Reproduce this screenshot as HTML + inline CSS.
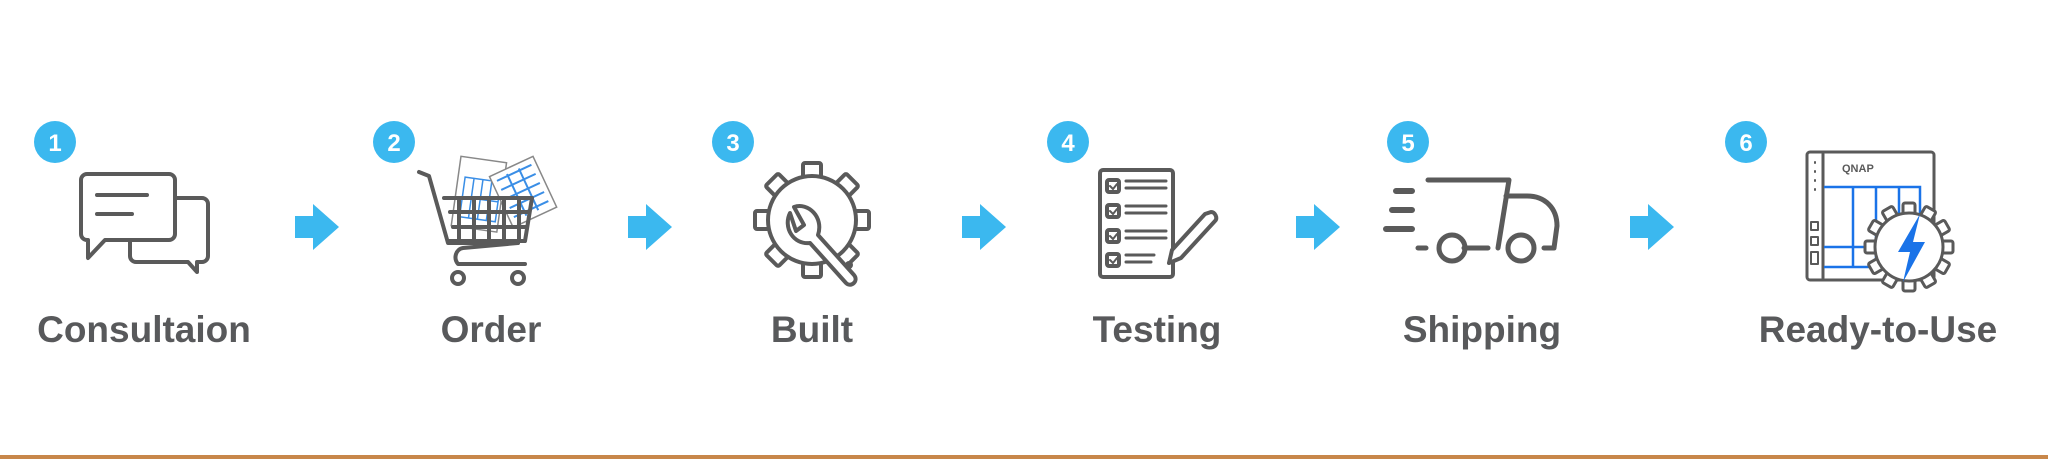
<!DOCTYPE html>
<html><head><style>
html,body{margin:0;padding:0;background:#fff;}
svg{display:block;}
text{font-family:"Liberation Sans",sans-serif;}
</style></head><body>
<svg width="2048" height="459" viewBox="0 0 2048 459" xmlns="http://www.w3.org/2000/svg">
<rect width="2048" height="459" fill="#fff"/>
<g fill="#3bb8ef">
<circle cx="55" cy="142" r="21"/><circle cx="394" cy="142" r="21"/><circle cx="733" cy="142" r="21"/>
<circle cx="1068" cy="142" r="21"/><circle cx="1408" cy="142" r="21"/><circle cx="1746" cy="142" r="21"/>
</g>
<g fill="#fff" font-size="24" font-weight="bold" text-anchor="middle">
<text x="55" y="151">1</text><text x="394" y="151">2</text><text x="733" y="151">3</text>
<text x="1068" y="151">4</text><text x="1408" y="151">5</text><text x="1746" y="151">6</text>
</g>
<g fill="#3bb8ef">
<path d="M295 216h18v-12l26 23-26 23v-12h-18z"/>
<path d="M628 216h18v-12l26 23-26 23v-12h-18z"/>
<path d="M962 216h18v-12l26 23-26 23v-12h-18z"/>
<path d="M1296 216h18v-12l26 23-26 23v-12h-18z"/>
<path d="M1630 216h18v-12l26 23-26 23v-12h-18z"/>
</g>
<g fill="#58595b" font-size="37" font-weight="bold" text-anchor="middle">
<text x="144" y="342">Consultaion</text>
<text x="491" y="342">Order</text>
<text x="812" y="342">Built</text>
<text x="1157" y="342">Testing</text>
<text x="1482" y="342">Shipping</text>
<text x="1878" y="342">Ready-to-Use</text>
</g>
<g transform="rotate(8 470 200)">
<rect x="455" y="158" width="46" height="70" fill="#fff" stroke="#888" stroke-width="1.5"/>
<path d="M462 178h36v40h-36zM471 178v40M480 178v40M489 178v40M462 198h36" fill="none" stroke="#3a8ee6" stroke-width="1.5"/>
</g>
<g transform="rotate(-25 520 190)">
<rect x="498" y="165" width="48" height="56" fill="#fff" stroke="#888" stroke-width="1.5"/>
<path d="M503 172h38M503 182h38M503 192h38M503 202h38M503 212h38M515 170v46M528 170v46" fill="none" stroke="#3a8ee6" stroke-width="2"/>
</g>
<g fill="none" stroke="#5a5a5a" stroke-width="4" stroke-linejoin="round" stroke-linecap="round">
<path d="M176 198h26a6 6 0 0 1 6 6v52a6 6 0 0 1-6 6h-5v10l-9-10h-52a6 6 0 0 1-6-6v-16"/>
<path d="M87 174h82a6 6 0 0 1 6 6v54a6 6 0 0 1-6 6h-64l-17 18v-18h-1a6 6 0 0 1-6-6v-54a6 6 0 0 1 6-6z" fill="#fff"/>
<path d="M97 195h50M97 214h35"/>
<path d="M419 172l10 4 19 67h70"/>
<path d="M444 198h88l-7 43h-77"/>
<path d="M459 198v43M474 198v43M489 198v43M504 198v43M519 198v43M450 212h79M453 227h74"/>
<path d="M518 243l-55 5c-7 1-10 10-5 16h67"/>
<circle cx="458" cy="278" r="6"/><circle cx="518" cy="278" r="6"/>
<g transform="translate(812,220)" fill="#fff">
<g id="t"><rect x="-9" y="-57" width="18" height="20" rx="2"/></g>
<use href="#t" transform="rotate(45)"/><use href="#t" transform="rotate(90)"/><use href="#t" transform="rotate(135)"/>
<use href="#t" transform="rotate(180)"/><use href="#t" transform="rotate(225)"/><use href="#t" transform="rotate(270)"/><use href="#t" transform="rotate(315)"/>
<circle r="44"/>
</g>
<path d="M790 213c-7 14 3 32 20 30l36 40c5 5 13-2 8-8l-36-40c6-18-10-33-24-28l10 18-8 6z" fill="#fff"/>
<circle cx="849" cy="265" r="2"/>
<rect x="1100" y="170" width="73" height="107" rx="3"/>
<rect x="1107" y="180" width="12" height="12" rx="2"/><rect x="1107" y="205" width="12" height="12" rx="2"/>
<rect x="1107" y="230" width="12" height="12" rx="2"/><rect x="1107" y="254" width="12" height="12" rx="2"/>
<path d="M1126 181h40M1126 188h40M1126 206h40M1126 213h40M1126 231h40M1126 238h40M1126 255h28M1126 262h25" stroke-width="3"/>
<path d="M1110 186l3 3 4-5M1110 211l3 3 4-5M1110 236l3 3 4-5M1110 260l3 3 4-5" stroke-width="2"/>
<path d="M1205 214l-33 36-3 13 12-5 34-37c3-3 0-9-4-9z" fill="#fff"/>
<path d="M1428 180h81l-11 68M1506 196h21c18 0 30 12 30 30l-3 22h-10M1464 248h24M1418 248h8" stroke-width="5"/>
<path d="M1396 191h16M1392 210h20M1386 229h26" stroke-width="6"/>
<circle cx="1452" cy="248" r="13" stroke-width="5"/><circle cx="1521" cy="248" r="13" stroke-width="5"/>
<rect x="1807" y="152" width="127" height="128" rx="3" stroke-width="3"/>
<path d="M1823 154v124" stroke-width="3"/>
<path d="M1815 162v1M1815 171v1M1815 180v1M1815 189v1" stroke-width="2"/>
<rect x="1811" y="222" width="7" height="8" stroke-width="2"/><rect x="1811" y="237" width="7" height="8" stroke-width="2"/><rect x="1811" y="252" width="7" height="12" stroke-width="2"/>
</g>
<text x="1842" y="172" font-size="11" font-weight="bold" fill="#5a5a5a">QNAP</text>
<g fill="none" stroke="#1a73e8" stroke-width="2.5">
<path d="M1824 187h96v60M1824 247h96M1824 267h96M1853 187v81M1876 187v81M1899 187v81"/>
</g>
<g transform="translate(1909,247)" fill="#fff" stroke="#5a5a5a" stroke-width="3">
<g id="t2"><rect x="-6" y="-44" width="12" height="14" rx="2"/></g>
<use href="#t2" transform="rotate(30)"/><use href="#t2" transform="rotate(60)"/><use href="#t2" transform="rotate(90)"/><use href="#t2" transform="rotate(120)"/>
<use href="#t2" transform="rotate(150)"/><use href="#t2" transform="rotate(180)"/><use href="#t2" transform="rotate(210)"/><use href="#t2" transform="rotate(240)"/><use href="#t2" transform="rotate(270)"/><use href="#t2" transform="rotate(300)"/><use href="#t2" transform="rotate(330)"/>
<circle r="34"/>
</g>
<path d="M1920 214l-22 38h12l-7 30 22-40h-12z" fill="#1a73e8"/>
<rect x="0" y="455" width="2048" height="4" fill="#c8874a"/>
</svg>
</body></html>
